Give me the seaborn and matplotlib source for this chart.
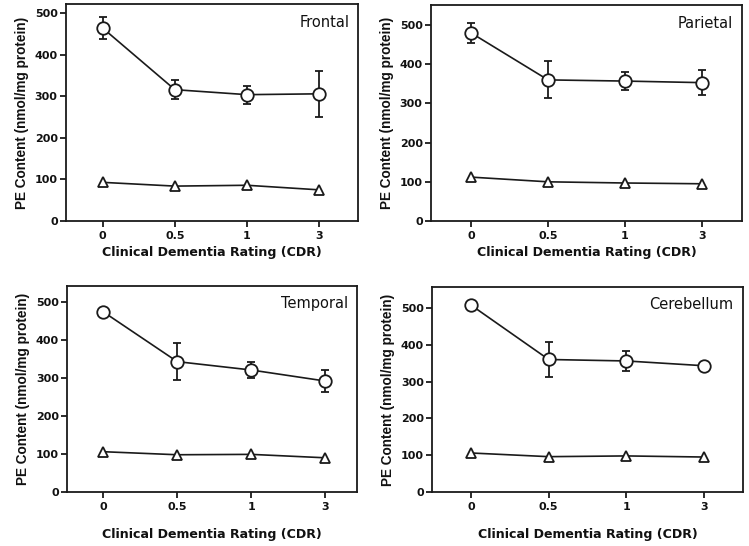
import matplotlib
matplotlib.use("Agg")
import matplotlib.pyplot as plt
import seaborn as sns
import pandas as pd
import numpy as np

sns.set_theme(style="white")
plt.rcParams['font.family'] = ['DejaVu Sans']

cdr_labels = ['0', '0.5', '1', '3']
regions = ['Frontal', 'Parietal', 'Temporal', 'Cerebellum']

# circle series (upper) and error bar half-widths
frontal_circ = [464, 316, 304, 306]
frontal_circ_err = [27, 23, 22, 55]
frontal_tri = [93, 84, 86, 75]

parietal_circ = [480, 360, 357, 353]
parietal_circ_err = [25, 47, 22, 31]
parietal_tri = [112, 100, 97, 95]

temporal_circ = [474, 343, 321, 292]
temporal_circ_err = [0, 48, 22, 29]
temporal_tri = [106, 98, 99, 90]

cerebellum_circ = [508, 360, 356, 343]
cerebellum_circ_err = [0, 48, 26, 0]
cerebellum_tri = [106, 96, 98, 95]

circ = [frontal_circ, parietal_circ, temporal_circ, cerebellum_circ]
circ_err = [frontal_circ_err, parietal_circ_err, temporal_circ_err, cerebellum_circ_err]
tri = [frontal_tri, parietal_tri, temporal_tri, cerebellum_tri]

ylims = [(0, 522), (0, 551), (0, 542), (0, 557)]
xlims = [(-0.51, 3.54), (-0.52, 3.52), (-0.49, 3.43), (-0.5, 3.5)]
positions = [
    [0.0881, 0.5952, 0.3900, 0.3974],
    [0.5754, 0.5952, 0.4153, 0.3956],
    [0.0895, 0.0989, 0.3871, 0.3773],
    [0.5768, 0.0989, 0.4152, 0.3755],
]

ink = '#1a1a1a'

fig = plt.figure(figsize=(7.49, 5.46), dpi=100)
fig.patch.set_facecolor('white')

for i, region in enumerate(regions):
    ax = fig.add_axes(positions[i])
    idx = np.arange(len(cdr_labels))
    df = pd.DataFrame({'x': np.concatenate([idx, idx]),
                       'y': circ[i] + tri[i],
                       'group': ['circ'] * 4 + ['tri'] * 4})
    ax.errorbar(idx, circ[i], yerr=circ_err[i], fmt='none', ecolor=ink,
                elinewidth=1.3, capsize=2.7, capthick=1.3, zorder=1)
    sns.lineplot(data=df, x='x', y='y', style='group', markers={'circ': 'o', 'tri': '^'},
                 dashes=False, color=ink, linewidth=1.2, markersize=9,
                 markerfacecolor='white', markeredgecolor=ink, markeredgewidth=1.3,
                 legend=False, ax=ax, zorder=3)
    for ln in ax.lines:
        if ln.get_marker() == '^':
            ln.set_markersize(7.5)
    ax.set_xlim(*xlims[i])
    ax.set_ylim(*ylims[i])
    ax.set_xticks(idx)
    ax.set_xticklabels(cdr_labels)
    ax.set_yticks([0, 100, 200, 300, 400, 500])
    ax.tick_params(axis='both', direction='out', length=4, width=1.3, color=ink,
                   labelsize=8, labelcolor='#111111', pad=2,
                   left=True, bottom=True, top=False, right=False)
    for lab in ax.get_xticklabels() + ax.get_yticklabels():
        lab.set_fontweight('bold')
    ax.tick_params(axis='x', pad=3)
    for sp in ax.spines.values():
        sp.set_color(ink)
        sp.set_linewidth(1.3)
        sp.set_visible(True)
    ax.set_xlabel('Clinical Dementia Rating (CDR)', fontsize=9.1, fontweight='bold',
                  color='#111111', labelpad=4 if i < 2 else 12)
    ax.set_ylabel('PE Content (nmol/mg protein)', fontsize=9.8, fontweight='bold',
                  family=['Liberation Sans'], color='#111111', labelpad=4)
    ax.text(0.97, 0.95, region, transform=ax.transAxes, ha='right', va='top',
            fontsize=10.5, color='#111111')
    ax.grid(False)

fig.savefig('out.png', dpi=100, facecolor='white')
